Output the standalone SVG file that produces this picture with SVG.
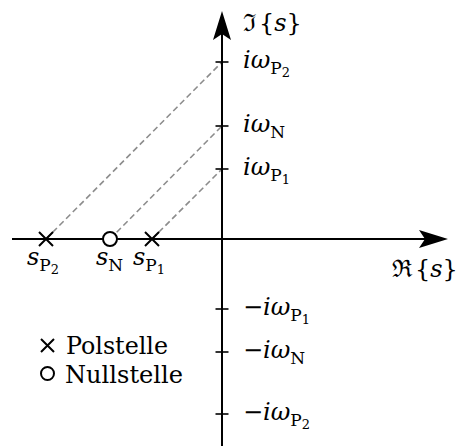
<svg xmlns="http://www.w3.org/2000/svg" width="458" height="446" viewBox="0 0 458 446">
<style>
.axis{stroke:#000;stroke-width:2;fill:none}
.tick{stroke:#000;stroke-width:1.6;fill:none}
.dash{stroke:#8c8c8c;stroke-width:1.6;stroke-dasharray:6 3.5;fill:none}
.mk{stroke:#000;stroke-width:2;fill:none}
.circ{stroke:#000;stroke-width:2;fill:#fff}
.t{font-family:'DejaVu Serif',serif;font-size:24px;fill:#000}
.it{font-style:italic}
.sub{font-size:17px}
.ss{font-size:13px}
</style>
<defs>
<path id="head" d="M0,0 L-29,-9 L-23,0 L-29,9 Z" fill="#000"/>
</defs>
<rect width="458" height="446" fill="#fff"/>
<g id="connectors">
<line class="dash" x1="46" y1="239" x2="222" y2="62"/>
<line class="dash" x1="110" y1="239" x2="222" y2="126"/>
<line class="dash" x1="152" y1="239" x2="222" y2="169"/>
</g>
<g id="axes">
<line class="axis" x1="12" y1="239" x2="430" y2="239"/>
<line class="axis" x1="222" y1="446" x2="222" y2="30"/>
<use href="#head" transform="translate(448,239)"/>
<use href="#head" transform="translate(222,11) rotate(-90)"/>
<text class="t" x="392" y="277">ℜ<tspan dx="3">{</tspan><tspan class="it">s</tspan>}</text>
<text class="t" x="243" y="31">ℑ<tspan dx="3">{</tspan><tspan class="it">s</tspan>}</text>
</g>
<g id="ticks">
<line class="tick" x1="215.5" y1="62" x2="228.5" y2="62"/>
<line class="tick" x1="215.5" y1="126" x2="228.5" y2="126"/>
<line class="tick" x1="215.5" y1="169" x2="228.5" y2="169"/>
<line class="tick" x1="215.5" y1="309" x2="228.5" y2="309"/>
<line class="tick" x1="215.5" y1="352" x2="228.5" y2="352"/>
<line class="tick" x1="215.5" y1="414" x2="228.5" y2="414"/>
<text class="t" x="243" y="68"><tspan class="it">iω</tspan><tspan class="sub" dy="6">P</tspan><tspan class="ss" dy="3">2</tspan></text>
<text class="t" x="243" y="132"><tspan class="it">iω</tspan><tspan class="sub" dy="6">N</tspan></text>
<text class="t" x="243" y="175"><tspan class="it">iω</tspan><tspan class="sub" dy="6">P</tspan><tspan class="ss" dy="3">1</tspan></text>
<text class="t" x="243" y="315">−<tspan class="it">iω</tspan><tspan class="sub" dy="6">P</tspan><tspan class="ss" dy="3">1</tspan></text>
<text class="t" x="243" y="358">−<tspan class="it">iω</tspan><tspan class="sub" dy="6">N</tspan></text>
<text class="t" x="243" y="420">−<tspan class="it">iω</tspan><tspan class="sub" dy="6">P</tspan><tspan class="ss" dy="3">2</tspan></text>
</g>
<g id="pole-P2">
<path class="mk" d="M39,232 L53,246 M39,246 L53,232"/>
<text class="t" x="27" y="265"><tspan class="it">s</tspan><tspan class="sub" dy="6">P</tspan><tspan class="ss" dy="3">2</tspan></text>
</g>
<g id="zero-N">
<circle class="circ" cx="110" cy="239" r="7"/>
<text class="t" x="96" y="265"><tspan class="it">s</tspan><tspan class="sub" dy="6">N</tspan></text>
</g>
<g id="pole-P1">
<path class="mk" d="M145,232 L159,246 M145,246 L159,232"/>
<text class="t" x="133" y="265"><tspan class="it">s</tspan><tspan class="sub" dy="6">P</tspan><tspan class="ss" dy="3">1</tspan></text>
</g>
<g id="legend">
<path class="mk" d="M41,339 L54,352 M41,352 L54,339"/>
<text class="t" x="66" y="354" textLength="102" lengthAdjust="spacingAndGlyphs">Polstelle</text>
<circle class="circ" cx="47.5" cy="373.5" r="6.5"/>
<text class="t" x="65" y="383" textLength="118" lengthAdjust="spacingAndGlyphs">Nullstelle</text>
</g>
</svg>
